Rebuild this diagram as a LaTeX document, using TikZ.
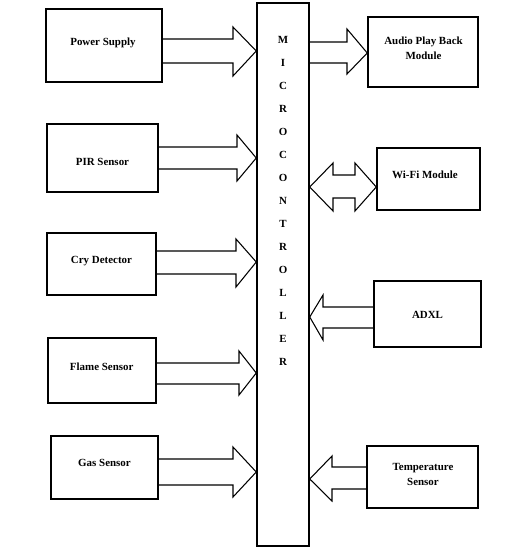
\documentclass[tikz,border=0pt]{standalone}
\usepackage{fontspec}
\setmainfont{Liberation Serif}
\usetikzlibrary{fit}
\begin{document}
\begin{tikzpicture}[x=0.75pt,y=-0.75pt,
  box/.style={draw,line width=1.1pt,inner sep=0pt,fit={#1}},
  txt/.style={inner sep=0pt,align=center,text height=5.4pt,text depth=0pt,
    font=\fontsize{8.2}{11.25}\selectfont\bfseries},
  arr/.style={draw,line width=0.8pt,line join=miter},
  letter/.style={txt}]
\useasboundingbox[fill=white] (0,0) rectangle (530,553);
% microcontroller
\node[box={(257,3) (309,546)}] (mc) {};
\foreach \l [count=\i from 0] in {M,I,C,R,O,C,O,N,T,R,O,L,L,E,R}
  \node[letter] (l\i) at (283,{40+23*\i}) {\l};
% left blocks
\node[box={(46,9) (162,82)}] (ps) {};
\node[txt] (pst) at (103,42) {Power Supply};
\node[box={(47,124) (158,192)}] (pir) {};
\node[txt] (pirt) at (102.5,162) {PIR Sensor};
\node[box={(47,233) (156,295)}] (cry) {};
\node[txt] (cryt) at (101.5,260) {Cry Detector};
\node[box={(48,338) (156,403)}] (fl) {};
\node[txt] (flt) at (101.7,367) {Flame Sensor};
\node[box={(51,436) (158,499)}] (gas) {};
\node[txt] (gast) at (104.5,463) {Gas Sensor};
% right blocks
\node[box={(368,17) (478,87)}] (aud) {};
\node[txt] (audt) at (423.5,55.5) {Audio Play Back\\Module};
\node[box={(377,148) (480,210)}] (wifi) {};
\node[txt] (wifit) at (425,175) {Wi-Fi Module};
\node[box={(374,281) (481,347)}] (adxl) {};
\node[txt] (adxlt) at (427.5,315) {ADXL};
\node[box={(367,446) (478,508)}] (temp) {};
\node[txt] (tempt) at (423,481.5) {Temperature\\Sensor};
% arrows into microcontroller
\draw[arr] (ps.east |- 0,39) -- (233,39) -- (233,27) -- (mc.west |- 0,51) -- (233,76) -- (233,63) -- (ps.east |- 0,63);
\draw[arr] (pir.east |- 0,147) -- (237,147) -- (237,135) -- (mc.west |- 0,158) -- (237,181) -- (237,169) -- (pir.east |- 0,169);
\draw[arr] (cry.east |- 0,251) -- (236,251) -- (236,239) -- (mc.west |- 0,262) -- (236,287) -- (236,274) -- (cry.east |- 0,274);
\draw[arr] (fl.east |- 0,363) -- (239,363) -- (239,351) -- (mc.west |- 0,373) -- (239,395) -- (239,384) -- (fl.east |- 0,384);
\draw[arr] (gas.east |- 0,459) -- (233,459) -- (233,447) -- (mc.west |- 0,472) -- (233,497) -- (233,485) -- (gas.east |- 0,485);
% output
\draw[arr] (mc.east |- 0,42) -- (347,42) -- (347,29) -- (aud.west |- 0,53) -- (347,74) -- (347,63) -- (mc.east |- 0,63);
% bidirectional
\draw[arr] (mc.east |- 0,187) -- (333,163) -- (333,175) -- (355,175) -- (355,163) -- (wifi.west |- 0,187) -- (355,211) -- (355,198) -- (333,198) -- (333,211) -- cycle;
% inputs from right
\draw[arr] (adxl.west |- 0,307) -- (323,307) -- (323,295) -- (mc.east |- 0,317) -- (323,340) -- (323,328) -- (adxl.west |- 0,328);
\draw[arr] (temp.west |- 0,467) -- (332,467) -- (332,456) -- (mc.east |- 0,479) -- (332,501) -- (332,489) -- (temp.west |- 0,489);
\end{tikzpicture}
\end{document}
